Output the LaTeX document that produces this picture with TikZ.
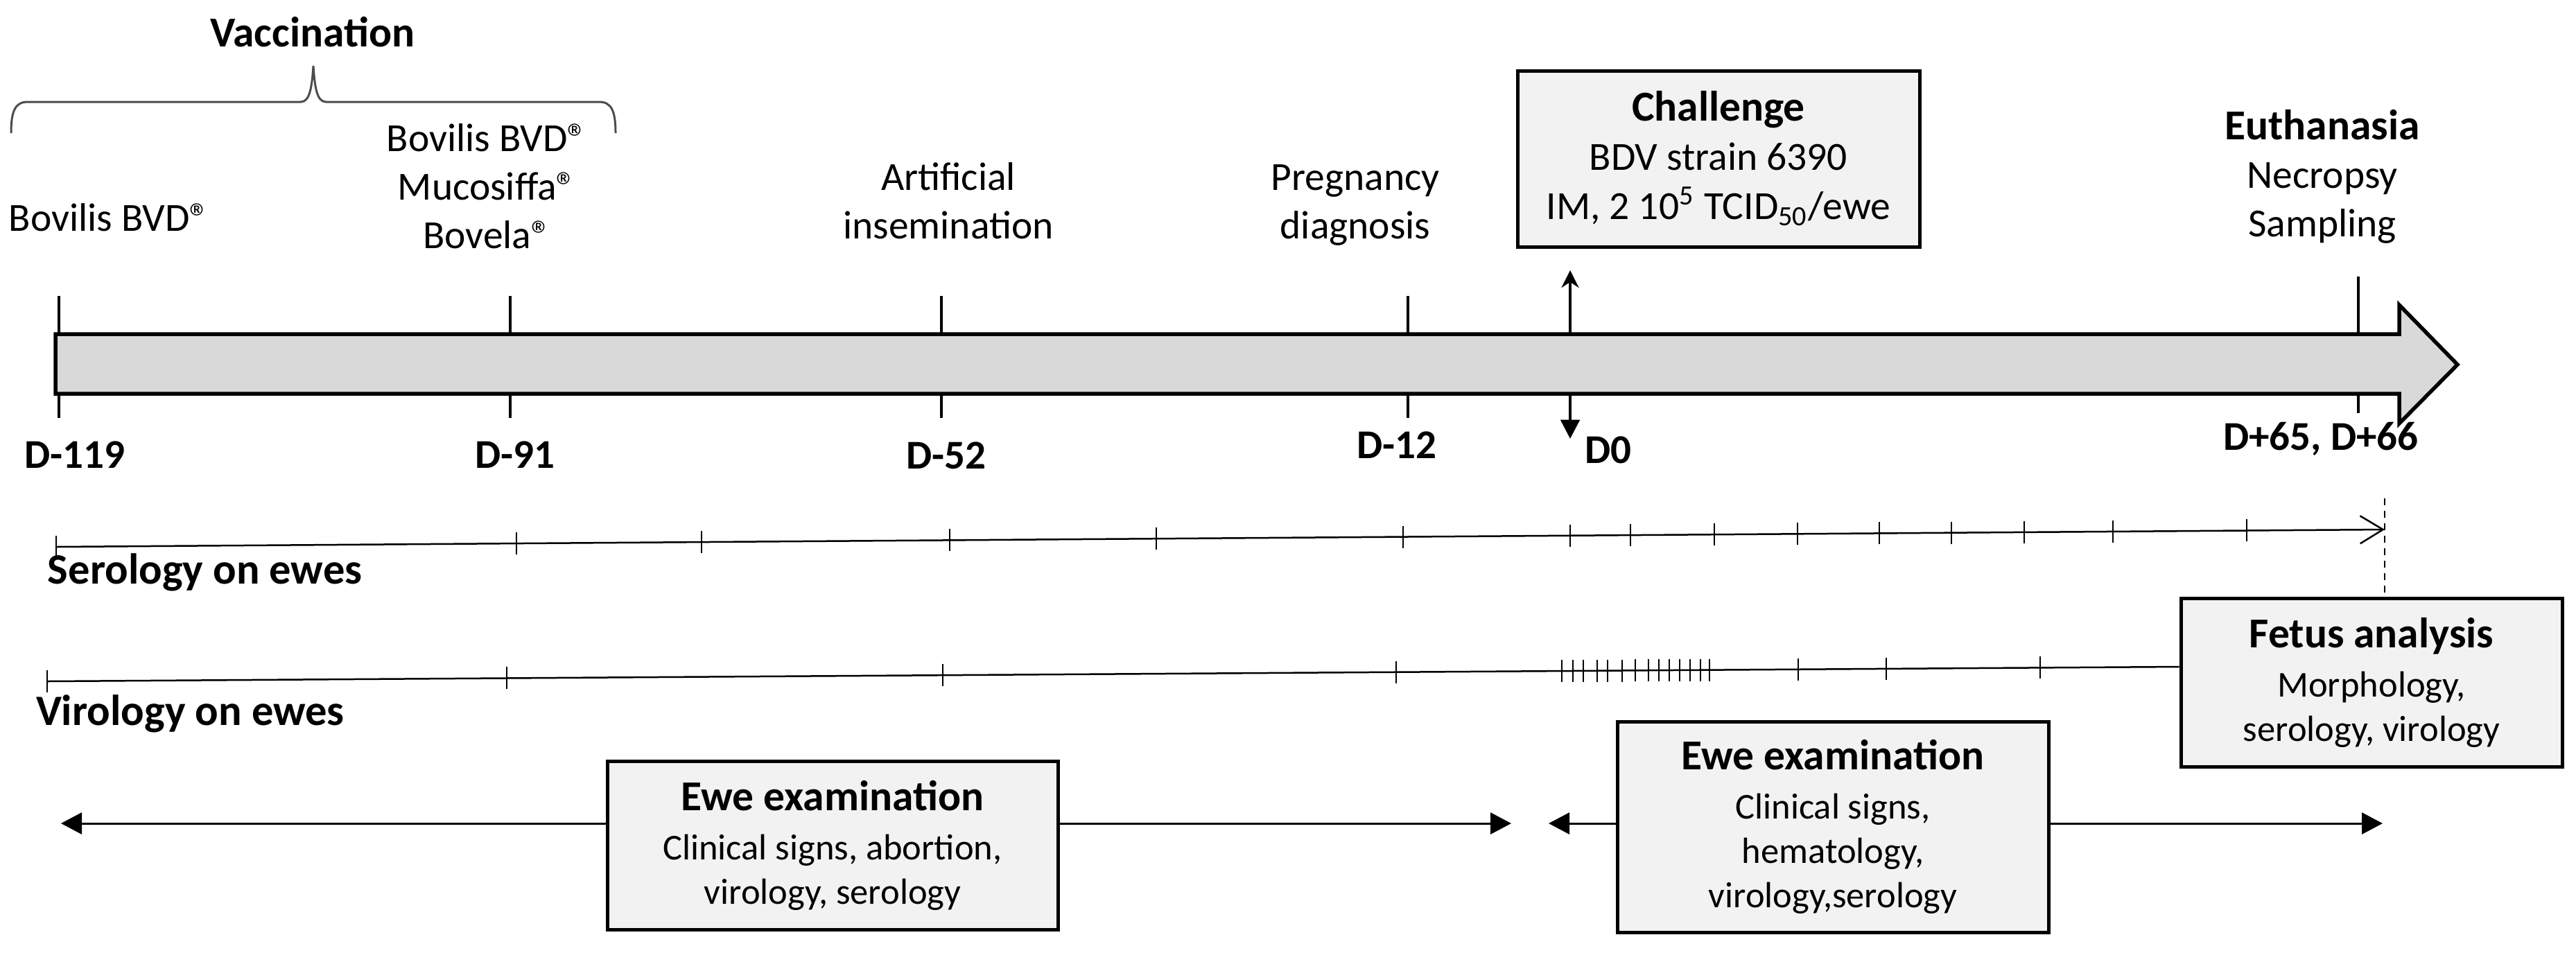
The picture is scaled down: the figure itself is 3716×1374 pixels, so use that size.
\documentclass[tikz,border=0pt]{standalone}
\usepackage{fontspec}
\setmainfont{Carlito}
\usetikzlibrary{arrows.meta,calc}
\definecolor{barfill}{HTML}{D9D9D9}
\definecolor{boxfill}{HTML}{F2F2F2}
\begin{document}
\begin{tikzpicture}[x=0.2pt,y=-0.2pt,
  lbl/.style={font=\fontsize{11.5}{14}\selectfont, align=center, inner sep=0pt},
  dlbl/.style={font=\fontsize{11.8}{14}\selectfont\bfseries, inner sep=0pt},
  ttl/.style={font=\fontsize{12.3}{14}\selectfont\bfseries, inner sep=0pt},
  infobox/.style={draw, line width=1pt, fill=boxfill, align=center, inner sep=0pt, font=\fontsize{10.5}{12.8}\selectfont},
  tickline/.style={line width=0.7pt},
  fineline/.style={line width=0.5pt},
  exarrow/.style={line width=0.6pt, -{Triangle[length=6pt,width=6.2pt]}},
]
\useasboundingbox (0,0) rectangle (3716,1374);

% ---- main timeline arrow ----
\draw[line width=1.1pt, fill=barfill] (80,482) -- (3461,482) -- (3461,440) -- (3545,526)
  -- (3461,611) -- (3461,568) -- (80,568) -- cycle;
\foreach \x in {85,736,1358,2031} {
  \draw[tickline] (\x,427) -- (\x,482);
  \draw[tickline] (\x,568) -- (\x,603);
}
\draw[tickline] (3402,399) -- (3402,482);
\draw[tickline] (3402,568) -- (3402,596);

% ---- top labels ----
\node[ttl] (vacc) at (451,46) {Vaccination};
\draw[line width=0.6pt, black!70] (16,192) .. controls (16,160) and (22,147) .. (40,147) -- (434,147)
  .. controls (447,147) and (450,125) .. (452,95) .. controls (454,125) and (457,147) .. (470,147)
  -- (864,147) .. controls (882,147) and (888,160) .. (888,192);
\node[lbl] (bov1) at (158,314) {Bovilis BVD®};
\node[lbl] (bov2) at (703,269) {Bovilis BVD®\\Mucosiffa®\\Bovela®};
\node[lbl] (ai) at (1368,290) {Artificial\\insemination};
\node[lbl] (preg) at (1955,296) {Pregnancy\\diagnosis};
\node[lbl] (euth) at (3350,255) {{\fontsize{12.3}{14}\selectfont\bfseries Euthanasia}\\Necropsy\\Sampling};

\node[infobox, minimum width=116pt, minimum height=50.8pt, font=\fontsize{11.5}{14.2}\selectfont] (chal) at (2479,229)
  {{\fontsize{12.3}{14}\selectfont\bfseries Challenge}\\BDV strain 6390\\IM, 2 10\textsuperscript{5} TCID\textsubscript{50}/ewe};

% challenge arrows
\coordinate (cup) at (2265,390);
\coordinate (cdown) at (2265,633);
\draw[line width=0.8pt, -{Stealth[length=5pt,width=5pt]}] (2265,482) -- (cup);
\draw[line width=0.8pt, -{Triangle[length=5.5pt,width=5.5pt]}] (2265,568) -- (cdown);

% ---- day labels ----
\node[dlbl] (d119) at (108,656) {D-119};
\node[dlbl] (d91) at (743,656) {D-91};
\node[dlbl] (d52) at (1365,657) {D-52};
\node[dlbl] (d12) at (2015,642) {D-12};
\node[dlbl] (d0) at (2320,649) {D0};
\node[dlbl] (d65) at (3348,633) {D+65, D+66};

% ---- boxes ----
\node[infobox, minimum width=110pt, minimum height=48.6pt] (fetus) at (3421,985)
  {{\fontsize{12.3}{14}\selectfont\bfseries Fetus analysis}\\[1.4pt]Morphology,\\serology, virology};
\node[infobox, minimum width=130pt, minimum height=48.6pt] (exam1) at (1201,1220)
  {{\fontsize{12.3}{14}\selectfont\bfseries Ewe examination}\\[1.4pt]Clinical signs, abortion,\\virology, serology};
\node[infobox, minimum width=124.4pt, minimum height=60.8pt] (exam2) at (2644,1193)
  {{\fontsize{12.3}{14}\selectfont\bfseries Ewe examination}\\[1.4pt]Clinical signs,\\hematology,\\virology,serology};

% ---- serology line ----
\coordinate (s0) at (81,789);
\coordinate (s1) at (3440,764);
\draw[fineline, -{Straight Barb[length=6.6pt,width=8pt]}] (s0) -- (s1);
\foreach \x in {81,745,1012,1370,1668,2024,2265,2352,2473,2593,2711,2815,2920,3048,3241} {
  \pgfmathsetmacro\yy{789-0.0074427*(\x-81)}
  \draw[fineline] (\x,{\yy-16}) -- (\x,{\yy+16});
}
\node[ttl, anchor=west, font=\fontsize{12.5}{14}\selectfont\bfseries] (serlbl) at (68,826) {Serology on ewes};
\coordinate (dtop) at (3440,719);
\draw[fineline, dash pattern=on 2pt off 1.6pt] (dtop) -- (dtop |- fetus.north);

% ---- virology line ----
\coordinate (v0) at (68,983);
\coordinate (vy) at (0,962);
\draw[fineline] (v0) -- (fetus.west |- vy);
\foreach \x in {68,731,1360,2014,2253,2269,2284,2304,2319,2340,2359,2378,2393,2408,2423,2438,2453,2466,2594,2721,2943} {
  \pgfmathsetmacro\yy{983-0.0068226*(\x-68)}
  \draw[fineline] (\x,{\yy-16}) -- (\x,{\yy+16});
}
\node[ttl, anchor=west, font=\fontsize{12.5}{14}\selectfont\bfseries] (virlbl) at (51,1030) {Virology on ewes};

% ---- exam arrows ----
\coordinate (e1L) at (88,1188);
\coordinate (e1R) at (2180,1188);
\coordinate (e2L) at (2234,1188);
\coordinate (e2R) at (3437,1188);
\draw[exarrow] (exam1.west |- e1L) -- (e1L);
\draw[exarrow] (exam1.east |- e1R) -- (e1R);
\draw[exarrow] (exam2.west |- e2L) -- (e2L);
\draw[exarrow] (exam2.east |- e2R) -- (e2R);
\end{tikzpicture}
\end{document}
